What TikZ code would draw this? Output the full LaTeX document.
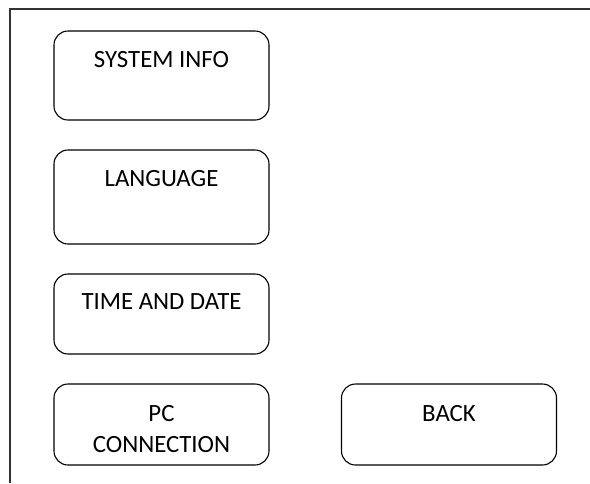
\documentclass[tikz,border=0pt]{standalone}
\usepackage{fontspec}
\setmainfont{Carlito}
\usetikzlibrary{positioning}

\begin{document}
\begin{tikzpicture}[x=1pt,y=-1pt,
	btn/.style={draw,rounded corners=14pt,line width=1.1pt,minimum width=215pt,inner sep=0pt},
	lbl/.style={font=\fontsize{24.8}{30.5}\selectfont,align=center,inner sep=0pt,anchor=base}]
	% Rahmen
	\useasboundingbox (0,0) rectangle (590,483);
	\coordinate (ol) at (10,483);
	\coordinate (tl) at (10,9);
	\coordinate (tr) at (590,9);
	\draw[line width=1.4pt,black!80] (ol) -- (tl) -- (tr);

	% Schaltflaechen
	\node[btn,minimum height=89pt] (sysinfo) at (161.5,75.5) {};
	\node[btn,minimum height=94pt] (language) at (161.5,197) {};
	\node[btn,minimum height=80pt] (timedate) at (161.5,314) {};
	\node[btn,minimum height=81pt] (pcconn) at (161.5,424.5) {};
	\node[btn,minimum height=81pt] (back) at (449,424.5) {};

	% Beschriftungen
	\node[lbl] (sysinfotxt) at ([yshift=-37pt]sysinfo.north) {SYSTEM INFO};
	\node[lbl] (languagetxt) at ([yshift=-37pt]language.north) {LANGUAGE};
	\node[lbl] (timedatetxt) at ([yshift=-36pt]timedate.north) {TIME AND DATE};
	\node[lbl] (pcconntxt) at ([yshift=-69pt]pcconn.north) {PC\\CONNECTION};
	\node[lbl] (backtxt) at ([yshift=-38.5pt]back.north) {BACK};
\end{tikzpicture}
\end{document}
